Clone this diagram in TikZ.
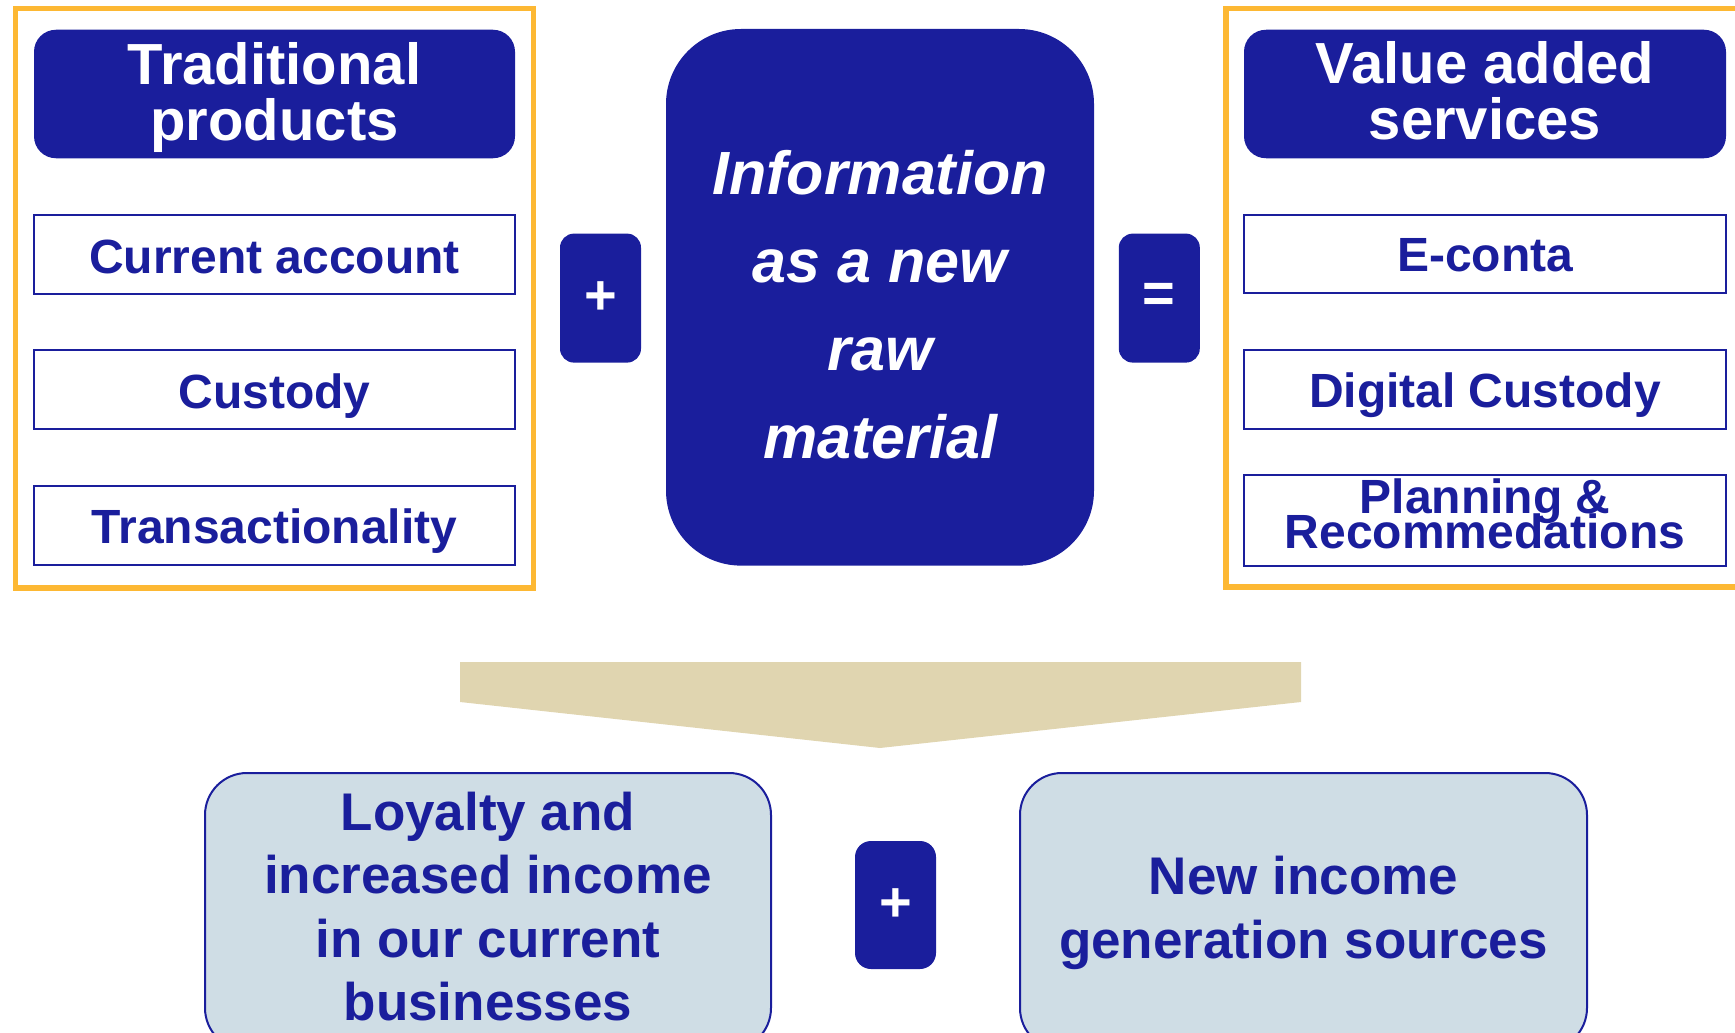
\documentclass[tikz,border=0pt]{standalone}
\usepackage{fontspec}
\setmainfont{Liberation Sans}
\definecolor{dblue}{HTML}{1A1E9C}
\definecolor{orng}{HTML}{FDB833}
\definecolor{tanfill}{HTML}{E0D5B0}
\definecolor{lblue}{HTML}{CFDDE5}
\newcommand\mytightls{\lineskiplimit=-100pt\relax}
\begin{document}
\begin{tikzpicture}[x=1pt,y=-1pt,
  frame/.style={draw=orng,line width=5.5pt,inner sep=0pt},
  hdr/.style={fill=dblue,rounded corners=22pt,inner sep=0pt},
  item/.style={draw=dblue,line width=2pt,fill=white,inner sep=0pt},
  opbox/.style={fill=dblue,rounded corners=14pt,inner sep=0pt,minimum width=81pt,minimum height=129pt},
  outbox/.style={draw=dblue,line width=2pt,fill=lblue,rounded corners=42pt,inner sep=0pt},
  hdrtxt/.style={anchor=base,text=white,align=center,inner sep=0pt,font=\fontsize{58}{56}\selectfont\bfseries\mytightls},
  itemtxt/.style={anchor=base,text=dblue,align=center,inner sep=0pt,font=\fontsize{48}{35}\selectfont\bfseries\mytightls},
  optxt/.style={text=white,inner sep=0pt,font=\fontsize{56}{56}\selectfont\bfseries},
  outtxt/.style={anchor=base,text=dblue,align=center,inner sep=0pt,font=\fontsize{53}{63.5}\selectfont\bfseries\mytightls},
]
\useasboundingbox (0,0) rectangle (1735,1033);
\clip (0,0) rectangle (1735,1033);

% left frame
\node[frame,minimum width=517.8pt,minimum height=579.6pt] (lframe) at (274.6,298.2) {};
\node[hdr,minimum width=481pt,minimum height=128.5pt] (trad) at (274.5,94) {};
\node[hdrtxt] (tradt) at (274.5,140) {Traditional\\products};
\node[item,minimum width=481pt,minimum height=79.5pt] (cur) at (274.5,254.3) {};
\node[itemtxt] (curt) at (274.5,273) {Current account};
\node[item,minimum width=481pt,minimum height=79pt] (cus) at (274.5,389.5) {};
\node[itemtxt] (cust) at (274.5,408.4) {Custody};
\node[item,minimum width=481pt,minimum height=79.5pt] (tra) at (274.5,525.3) {};
\node[itemtxt] (trat) at (274.5,543.9) {Transactionality};

% plus
\node[opbox] (plus1) at (600.5,298.1) {};
\node[optxt] (plus1t) at (plus1) {+};

% center
\node[fill=dblue,rounded corners=75pt,inner sep=0pt,minimum width=428pt,minimum height=536.6pt] (info) at (880,297.3) {};
\node[anchor=base,text=white,align=center,inner sep=0pt,font=\fontsize{61}{88}\selectfont\bfseries\itshape] (infot) at (880,458) {Information\\as a new\\raw\\material};

% equals
\node[opbox] (eq) at (1159.3,298.1) {};
\node[optxt] (eqt) at (eq) {=};

% right frame
\node[frame,minimum width=520pt,minimum height=578.6pt] (rframe) at (1486,297.7) {};
\node[hdr,minimum width=482pt,minimum height=128.5pt] (vas) at (1485,94) {};
\node[hdrtxt] (vast) at (1485,139.5) {Value added\\services};
\node[item,minimum width=482pt,minimum height=78.5pt] (eco) at (1485,253.8) {};
\node[itemtxt] (ecot) at (1485,271.8) {E-conta};
\node[item,minimum width=482pt,minimum height=91pt] (pla) at (1485,520.5) {};
\node[item,minimum width=482pt,minimum height=79pt] (dig) at (1485,389.5) {};
\node[itemtxt] (digt) at (1485,407.6) {Digital Custody};
\node[itemtxt] (plat) at (1485,548) {Planning \&\\Recommedations};

% funnel
\fill[tanfill] (460,662) -- (1301,662) -- (1301,702) -- (880,748) -- (460,702) -- cycle;

% bottom
\node[outbox,minimum width=566pt,minimum height=277pt] (loy) at (488,911.5) {};
\node[outtxt] (loyt) at (488,1020.5) {Loyalty and\\increased income\\in our current\\businesses};
\node[opbox,rounded corners=16pt,minimum height=128pt] (plus2) at (895.5,905) {};
\node[optxt] (plus2t) at (plus2) {+};
\node[outbox,minimum width=567pt,minimum height=277pt] (nis) at (1303.5,911.5) {};
\node[outtxt] (nist) at (1303.5,958) {New income\\generation sources};
\end{tikzpicture}
\end{document}
